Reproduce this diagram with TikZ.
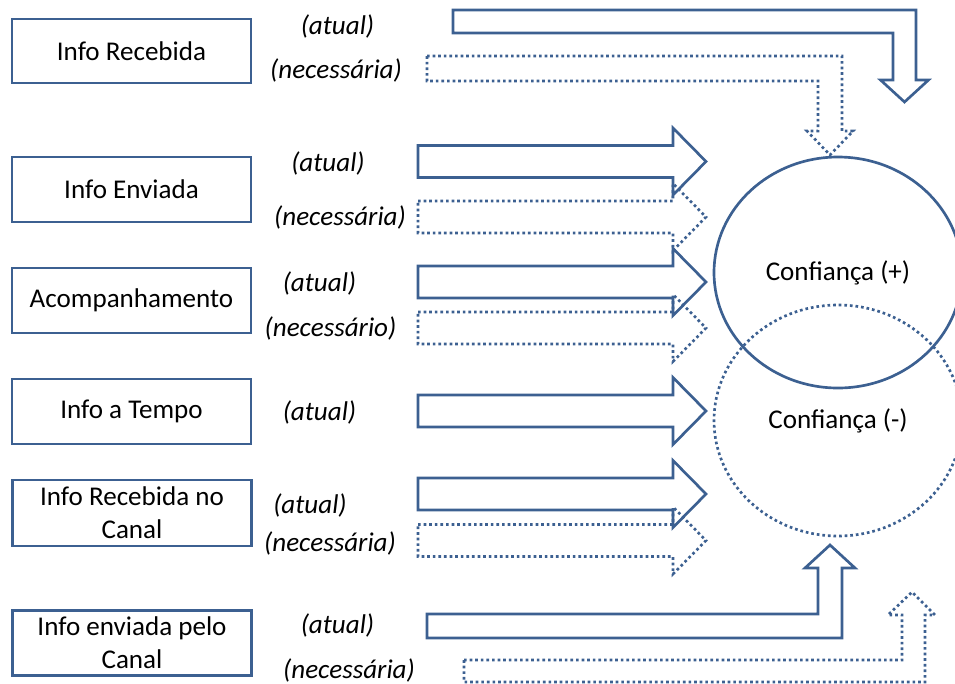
\documentclass[tikz,border=0pt]{standalone}
\usepackage{fontspec}
\setmainfont{Carlito}
\usetikzlibrary{shapes.geometric}
\definecolor{ablue}{RGB}{60,96,145}
\tikzset{
  solidln/.style={draw=ablue, line width=2pt, line join=miter},
  dotln/.style={draw=ablue, line width=2pt, dash pattern=on 2pt off 2.2pt},
  box/.style={draw=ablue, line width=1.9pt, minimum width=179.25pt, inner sep=0pt, align=center, font=\fontsize{20.3}{25}\selectfont},
  lbl/.style={inner sep=0pt, font=\fontsize{20.3}{25}\selectfont\itshape},
  conf/.style={ellipse, minimum width=186pt, minimum height=173.25pt, inner sep=0pt, font=\fontsize{20.3}{25}\selectfont}
}
\newcommand\blkarrow[2]{\draw[#1] (418,{#2-16}) -- (673,{#2-16}) -- (673,{#2-33.5}) -- (706,#2) -- (673,{#2+33.5}) -- (673,{#2+16}) -- (418,{#2+16}) -- cycle;}
\begin{document}
\begin{tikzpicture}[x=0.75pt,y=-0.75pt]
\clip (0,0) rectangle (955,683);
% left boxes
\node[box, minimum height=48pt] (b1) at (131.5,51) {Info Recebida};
\node[box, minimum height=48.75pt] (b2) at (131.5,189.5) {Info Enviada};
\node[box, minimum height=48.75pt] (b3) at (131.5,300.5) {Acompanhamento};
\node[box, minimum height=48.75pt] (b4) at (131.5,411.5) {Info a Tempo};
\node[box, minimum height=49.5pt] (b5) at (132,513) {Info Recebida no\\Canal};
\node[box, minimum height=48.75pt] (b6) at (132,643) {Info enviada pelo\\Canal};
% labels
\node[lbl] (l1a) at (337.5,26) {(atual)};
\node[lbl] (l1n) at (336,70.5) {(necessária)};
\node[lbl] (l2a) at (328,163) {(atual)};
\node[lbl] (l2n) at (340,217) {(necessária)};
\node[lbl] (l3a) at (319.5,283) {(atual)};
\node[lbl] (l3n) at (330.5,328) {(necessário)};
\node[lbl] (l4a) at (319.5,412) {(atual)};
\node[lbl] (l5a) at (310,505) {(atual)};
\node[lbl] (l5n) at (330,543) {(necessária)};
\node[lbl] (l6a) at (337.5,625) {(atual)};
\node[lbl] (l6n) at (349,670) {(necessária)};
% circles
\node[conf, dotln] (cneg) at (838,420.5) {Confiança (-)};
\node[conf, solidln] (cpos) at (838,272.5) {Confiança (+)};
% top bent arrows
\draw[solidln] (453,10) -- (916,10) -- (916,80) -- (928.5,80) -- (904.5,102) -- (880.5,80) -- (893,80) -- (893,33) -- (453,33) -- cycle;
\draw[dotln] (427,56) -- (842,56) -- (842,131) -- (853,131) -- (830,155) -- (807,131) -- (818,131) -- (818,81) -- (427,81) -- cycle;
% horizontal arrows
\blkarrow{solidln}{161.5}
\blkarrow{dotln}{217}
\blkarrow{solidln}{282}
\blkarrow{dotln}{328}
\blkarrow{solidln}{411}
\blkarrow{solidln}{494}
\blkarrow{dotln}{540.5}
% bottom bent arrows
\draw[solidln] (427,614) -- (818,614) -- (818,568) -- (805,568) -- (830,545) -- (855,568) -- (842,568) -- (842,638) -- (427,638) -- cycle;
\draw[dotln] (464,660) -- (902,660) -- (902,615) -- (888,615) -- (912,592) -- (935,615) -- (925,615) -- (925,682) -- (464,682) -- cycle;
\end{tikzpicture}
\end{document}
